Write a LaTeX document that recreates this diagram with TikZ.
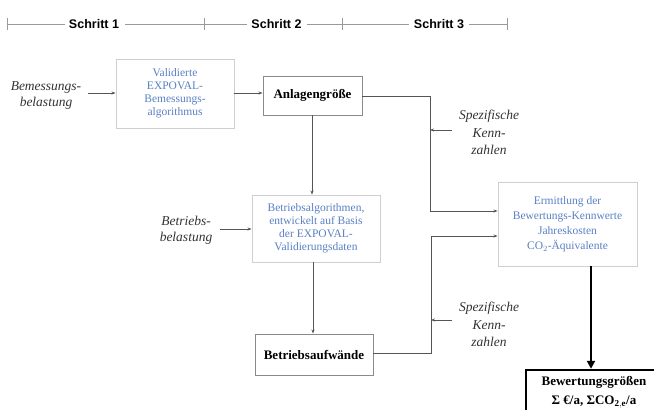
\documentclass[tikz,border=0pt]{standalone}
\usepackage{fontspec}
\setmainfont{Liberation Serif}[ItalicFont={Liberation Serif Italic}, BoldFont={Liberation Serif Bold}]
\setsansfont{Liberation Sans}
\usetikzlibrary{arrows.meta}
\definecolor{txtblue}{HTML}{5A80C4}
\definecolor{lightborder}{HTML}{CFCFCF}
\definecolor{darkborder}{HTML}{8A8A8A}
\definecolor{conn}{HTML}{555555}
\definecolor{rulergray}{HTML}{9A9A9A}
\tikzset{
  lightbox/.style={draw=lightborder, line width=0.9pt, text=txtblue, align=center, inner sep=0pt,
    font=\fontsize{11.5}{13}\selectfont},
  darkbox/.style={draw=darkborder, line width=0.9pt, align=center, inner sep=0pt,
    font=\fontsize{13}{15}\selectfont\bfseries},
  labeltext/.style={align=center, inner sep=0pt, text=black!80, font=\fontsize{13.5}{16}\selectfont\itshape},
  schritt/.style={inner sep=0pt, font=\fontsize{12.5}{14}\selectfont\sffamily\bfseries},
  conline/.style={draw=conn, line width=0.8pt},
  conarrow/.style={conline, -{Stealth[length=4pt,width=3pt]}},
  thickarrow/.style={draw=black, line width=2.4pt, -{Triangle[length=8pt,width=8pt]}},
}
\begin{document}
\begin{tikzpicture}[x=1pt,y=-1pt]
\useasboundingbox (0,0) rectangle (654,410);
\clip (0,0) rectangle (654,410);
\fill[white] (0,0) rectangle (654,410);

% ruler
\node[schritt] (s1) at (94,24) {Schritt 1};
\node[schritt] (s2) at (276.5,24) {Schritt 2};
\node[schritt] (s3) at (439,24) {Schritt 3};
\coordinate (r0) at (7,24);
\coordinate (r1) at (204,24);
\coordinate (r2) at (342,24);
\coordinate (r3) at (507,24);
\begin{scope}[draw=rulergray, line width=0.7pt]
\draw (r0) -- ([xshift=-4pt]s1.west);
\draw ([xshift=6pt]s1.east) -- (r1);
\draw (r1) -- ([xshift=-4pt]s2.west);
\draw ([xshift=5pt]s2.east) -- (r2);
\draw (r2) -- ([xshift=-5pt]s3.west);
\draw ([xshift=5pt]s3.east) -- (r3);
\draw ([yshift=-6pt]r0) -- ([yshift=6pt]r0);
\draw ([yshift=-6pt]r1) -- ([yshift=6pt]r1);
\draw ([yshift=-6pt]r2) -- ([yshift=6pt]r2);
\draw ([yshift=-6pt]r3) -- ([yshift=6pt]r3);
\end{scope}

% boxes
\node[lightbox, minimum width=118pt, minimum height=69pt] (val) at (175,93.5)
  {Validierte\\EXPOVAL-\\Bemessungs-\\algorithmus};
\node[darkbox, minimum width=99pt, minimum height=39pt] (anl) at (312.5,95.5) {Anlagengröße};
\node[lightbox, minimum width=128pt, minimum height=67pt] (bal) at (316,228.5)
  {Betriebsalgorithmen,\\entwickelt auf Basis\\der EXPOVAL-\\Validierungsdaten};
\node[darkbox, minimum width=118pt, minimum height=41pt] (bau) at (314,354.5) {Betriebsaufwände};
\node[lightbox, minimum width=139pt, minimum height=84pt, font=\fontsize{11.5}{15}\selectfont] (erm) at (567.5,224)
  {Ermittlung der\\Bewertungs-Kennwerte\\Jahreskosten\\CO$_2$-Äquivalente};
\node[draw=black, line width=2.4pt, minimum width=136pt, minimum height=52pt, inner sep=0pt] (bew) at (594,396) {};
\node[align=center, inner sep=0pt, font=\fontsize{13}{19}\selectfont\bfseries] (bewt) at (594,392.5)
  {Bewertungsgrößen\\Σ €/a, ΣCO$_{\mathbf{2,e}}$/a};

% labels
\node[labeltext] (bem) at (46,96) {Bemessungs-\\belastung};
\node[labeltext] (bet) at (186,230) {Betriebs-\\belastung};
\node[labeltext, font=\fontsize{13.5}{17.5}\selectfont\itshape] (sp1) at (489,132.5) {Spezifische\\Kenn-\\zahlen};
\node[labeltext, font=\fontsize{13.5}{17.5}\selectfont\itshape] (sp2) at (489,324.5) {Spezifische\\Kenn-\\zahlen};

% connectors
\coordinate (j1) at (430,96);
\coordinate (j2) at (430,211);
\coordinate (j3) at (431,353);
\coordinate (j4) at (431,236);
\coordinate (sp1a) at (452,130);
\coordinate (sp1b) at (430,130);
\coordinate (sp2a) at (452,320);
\coordinate (sp2b) at (431,320);
\coordinate (bema) at (88,93);
\coordinate (beta) at (220,229);

\draw[conarrow] (bema) -- (bema -| val.west);
\draw[conarrow] (val.east |- 0,93) -- (anl.west |- 0,93);
\draw[conarrow] (beta) -- (beta -| bal.west);
\draw[conline] (anl.east |- j1) -- (j1) -- (j2);
\draw[conarrow] (j2) -- (j2 -| erm.west);
\draw[conarrow] (anl.south -| 312,0) -- (bal.north -| 312,0);
\draw[conarrow] (bal.south -| 313,0) -- (bau.north -| 313,0);
\draw[conline] (bau.east |- j3) -- (j3) -- (j4);
\draw[conarrow] (j4) -- (j4 -| erm.west);
\draw[conarrow] (sp1a) -- (sp1b);
\draw[conarrow] (sp2a) -- (sp2b);
\draw[thickarrow] (erm.south -| 591,0) -- (bew.north -| 591,0);
\end{tikzpicture}
\end{document}
